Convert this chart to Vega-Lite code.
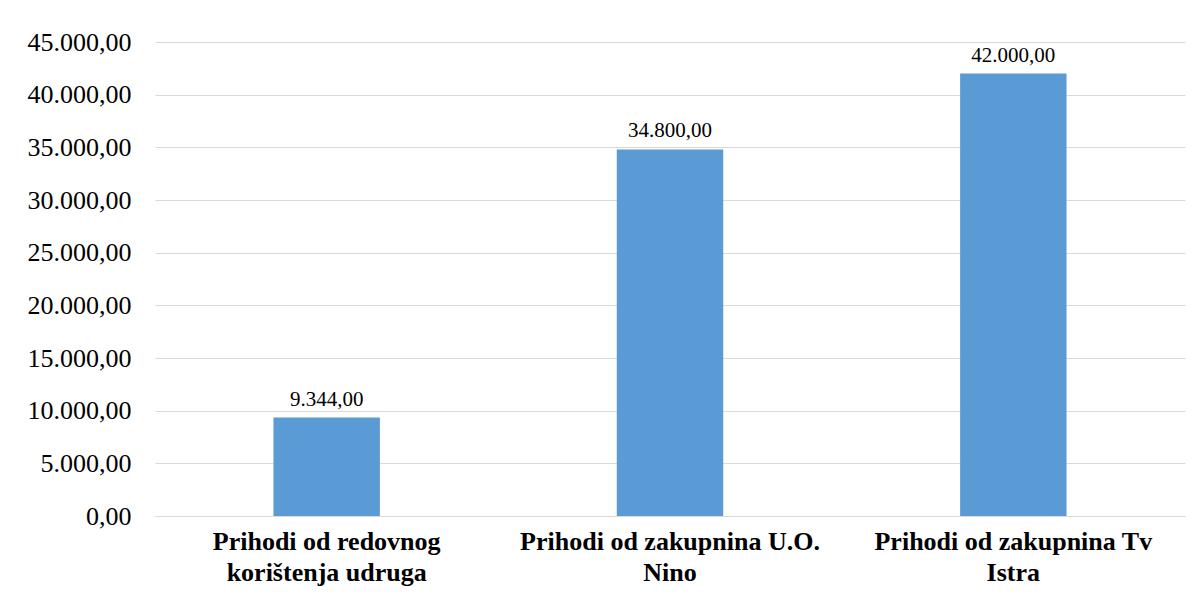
{
  "$schema": "https://vega.github.io/schema/vega-lite/v6.json",
  "autosize": {"type": "none"},
  "width": 1030,
  "height": 474,
  "padding": {"left": 155, "top": 42, "right": 15, "bottom": 87},
  "background": "white",
  "config": {
    "locale": {"number": {"decimal": ",", "thousands": ".", "grouping": [3], "currency": ["", ""]}},
    "view": {"stroke": null},
    "font": "Liberation Serif",
    "axis": {"labelFont": "Liberation Serif"},
    "text": {"font": "Liberation Serif"}
  },
  "data": {
    "values": [
      {"kategorija": "Prihodi od redovnog|korištenja udruga", "iznos": 9344},
      {"kategorija": "Prihodi od zakupnina U.O.|Nino", "iznos": 34800},
      {"kategorija": "Prihodi od zakupnina Tv|Istra", "iznos": 42000}
    ]
  },
  "encoding": {
    "x": {
      "field": "kategorija",
      "type": "nominal",
      "sort": null,
      "scale": {"paddingInner": 0.69, "paddingOuter": 0.345},
      "axis": {
        "title": null,
        "labelAngle": 0,
        "labelExpr": "split(datum.label, '|')",
        "labelFont": "Liberation Serif",
        "labelFontSize": 26,
        "labelFontWeight": "bold",
        "labelColor": "#000000",
        "labelLineHeight": 31,
        "labelPadding": 12,
        "labelLimit": 1000,
        "ticks": false,
        "domainColor": "#d9d9d9",
        "domainWidth": 1
      }
    },
    "y": {
      "field": "iznos",
      "type": "quantitative",
      "scale": {"domain": [0, 45000], "nice": false},
      "axis": {
        "title": null,
        "values": [0, 5000, 10000, 15000, 20000, 25000, 30000, 35000, 40000, 45000],
        "format": ",.2f",
        "labelFont": "Liberation Serif",
        "labelFontSize": 26,
        "labelColor": "#000000",
        "labelPadding": 24,
        "labelLimit": 1000,
        "ticks": false,
        "domain": false,
        "gridColor": "#d9d9d9",
        "gridWidth": 1
      }
    }
  },
  "layer": [
    {"mark": {"type": "bar", "color": "#5B9BD5"}},
    {
      "mark": {"type": "text", "dy": -18, "font": "Liberation Serif", "fontSize": 21, "color": "#000000"},
      "encoding": {"text": {"field": "iznos", "type": "quantitative", "format": ",.2f"}}
    }
  ]
}
